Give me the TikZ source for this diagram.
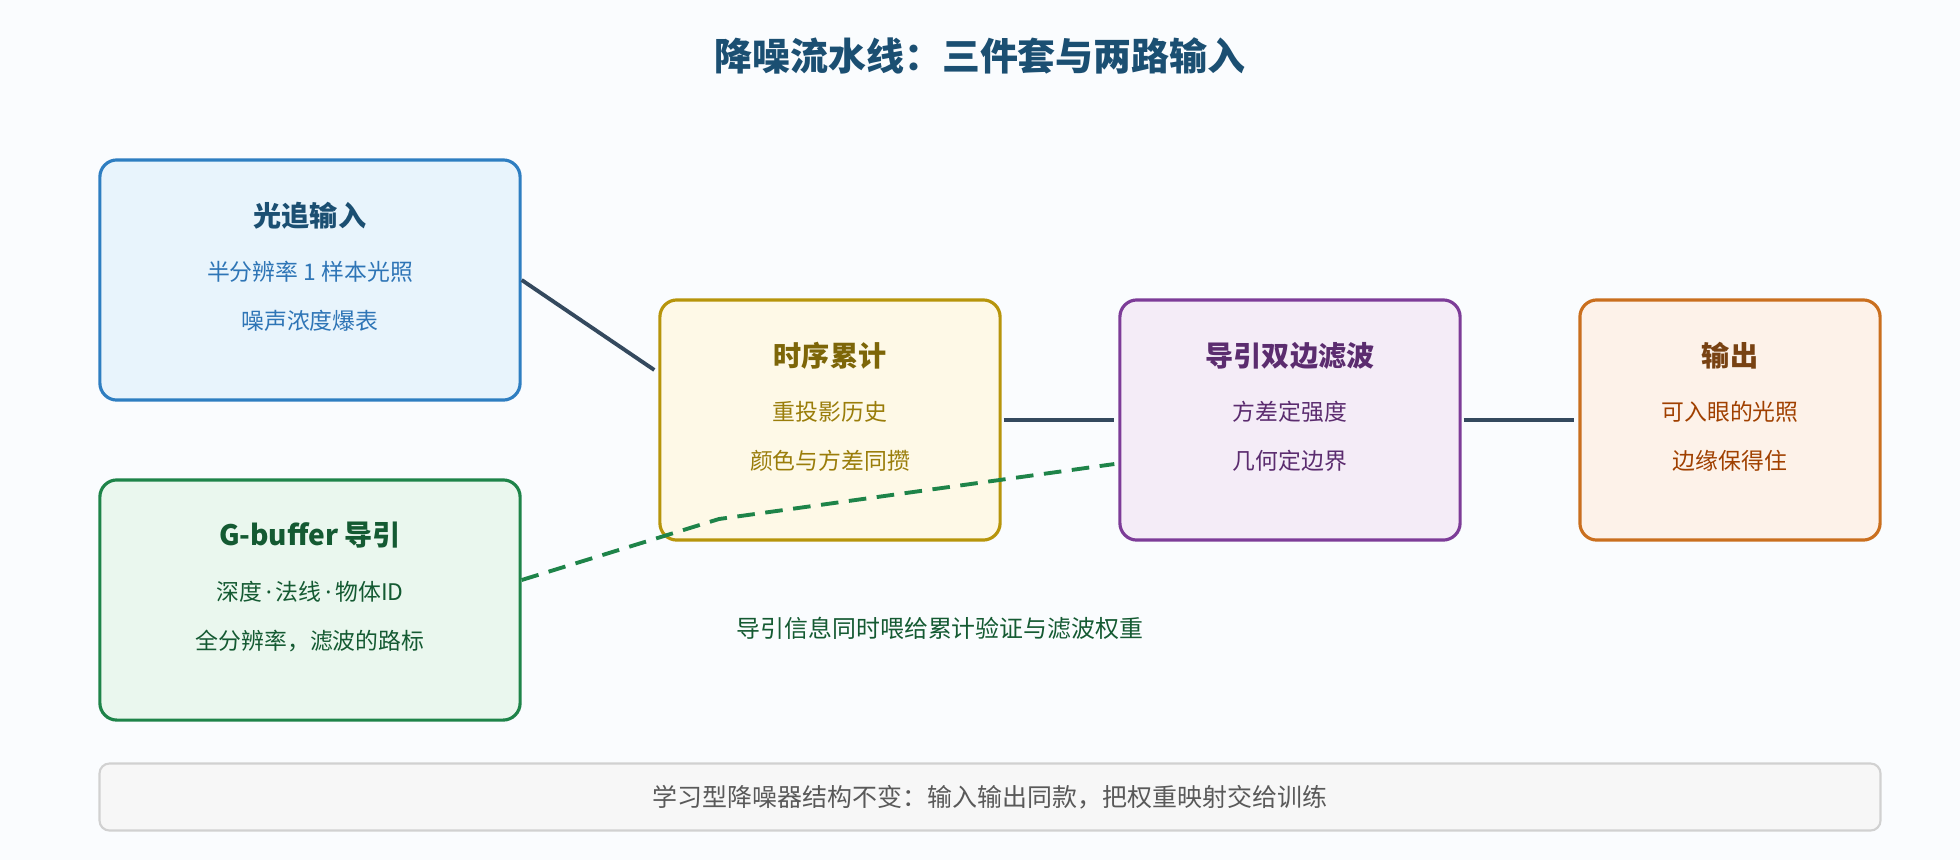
\documentclass[tikz,border=0pt]{standalone}
\usepackage{fontspec}
\setmainfont{Noto Sans CJK SC}
\newfontfamily\latinfont{Noto Sans}
\usetikzlibrary{positioning}
\definecolor{bgc}{HTML}{FAFCFE}
\definecolor{linec}{HTML}{34495E}
\definecolor{blueb}{HTML}{2E7EC1}\definecolor{bluef}{HTML}{E8F4FC}
\definecolor{bluet}{HTML}{1B4F72}\definecolor{blues}{HTML}{2E75B6}
\definecolor{greenb}{HTML}{1E8449}\definecolor{greenf}{HTML}{EAF7EE}
\definecolor{greent}{HTML}{145A32}
\definecolor{yelb}{HTML}{B7950B}\definecolor{yelf}{HTML}{FEF9E7}
\definecolor{yelt}{HTML}{7D6608}\definecolor{yels}{HTML}{9A7D0A}
\definecolor{purb}{HTML}{7D3C98}\definecolor{purf}{HTML}{F4ECF7}
\definecolor{purt}{HTML}{5B2C6F}
\definecolor{orab}{HTML}{CA6F1E}\definecolor{oraf}{HTML}{FDF2E9}
\definecolor{orat}{HTML}{784212}\definecolor{oras}{HTML}{A04000}
\tikzset{
  box/.style={draw, line width=0.9pt, rounded corners=0.17cm, align=center,
    inner sep=0pt, font=\fontsize{6.5}{14}\selectfont},
  wire/.style={draw=linec, line width=1.1pt},
}
\newcommand{\boxtitle}[1]{{\fontsize{8}{14}\selectfont\bfseries #1}}
\newcommand{\mdot}{{\latinfont\,·\,}}
\begin{document}
\begin{tikzpicture}[x=0.01cm, y=-0.01cm]
  \fill[bgc] (0,0) rectangle (1960,860);
  \node[font=\fontsize{10.8}{13}\selectfont\bfseries, text=bluet] (title) at (980,56) {降噪流水线：三件套与两路输入};
  % input boxes
  \node[box, draw=blueb, fill=bluef, text=blues, minimum width=4.2cm, minimum height=2.4cm] (src) at (310,280)
    {\textcolor{bluet}{\boxtitle{光追输入}}\\[1.5pt]半分辨率 1 样本光照\\噪声浓度爆表\\[-6pt]\mbox{}};
  \node[box, draw=greenb, fill=greenf, text=greent, minimum width=4.2cm, minimum height=2.4cm] (gbuf) at (310,600)
    {\boxtitle{G-buffer 导引}\\[1.5pt]深度\mdot 法线\mdot 物体ID\\全分辨率，滤波的路标\\[-6pt]\mbox{}};
  % pipeline
  \node[box, draw=yelb, fill=yelf, text=yels, minimum width=3.4cm, minimum height=2.4cm] (acc) at (830,420)
    {\textcolor{yelt}{\boxtitle{时序累计}}\\[1.5pt]重投影历史\\颜色与方差同攒\\[-6pt]\mbox{}};
  \node[box, draw=purb, fill=purf, text=purt, minimum width=3.4cm, minimum height=2.4cm] (filt) at (1290,420)
    {\boxtitle{导引双边滤波}\\[1.5pt]方差定强度\\几何定边界\\[-6pt]\mbox{}};
  \node[box, draw=orab, fill=oraf, text=oras, minimum width=3.0cm, minimum height=2.4cm] (out) at (1730,420)
    {\textcolor{orat}{\boxtitle{输出}}\\[1.5pt]可入眼的光照\\边缘保得住\\[-6pt]\mbox{}};
  \draw[wire] (src.east) -- ([xshift=-0.04cm, yshift=0.5cm]acc.west);
  \draw[wire] ([xshift=0.02cm]acc.east) -- ([xshift=-0.04cm]filt.west);
  \draw[wire] ([xshift=0.02cm]filt.east) -- ([xshift=-0.04cm]out.west);
  \coordinate (bend) at (719,519);
  \draw[greenb, line width=1.1pt, dash pattern=on 5pt off 3pt]
    ([yshift=0.2cm]gbuf.east) -- (bend) -- ([xshift=-0.04cm, yshift=-0.44cm]filt.west);
  \node[font=\fontsize{6.8}{8}\selectfont, text=greent] (note) at (940,628) {导引信息同时喂给累计验证与滤波权重};
  % footer
  \node[box, draw=black!18, fill=black!3, line width=0.6pt, rounded corners=0.1cm, text=black!65,
    font=\fontsize{7.1}{9}\selectfont, minimum width=17.8cm, minimum height=0.67cm] (foot) at (990,797) {学习型降噪器结构不变：输入输出同款，把权重映射交给训练};
\end{tikzpicture}
\end{document}
